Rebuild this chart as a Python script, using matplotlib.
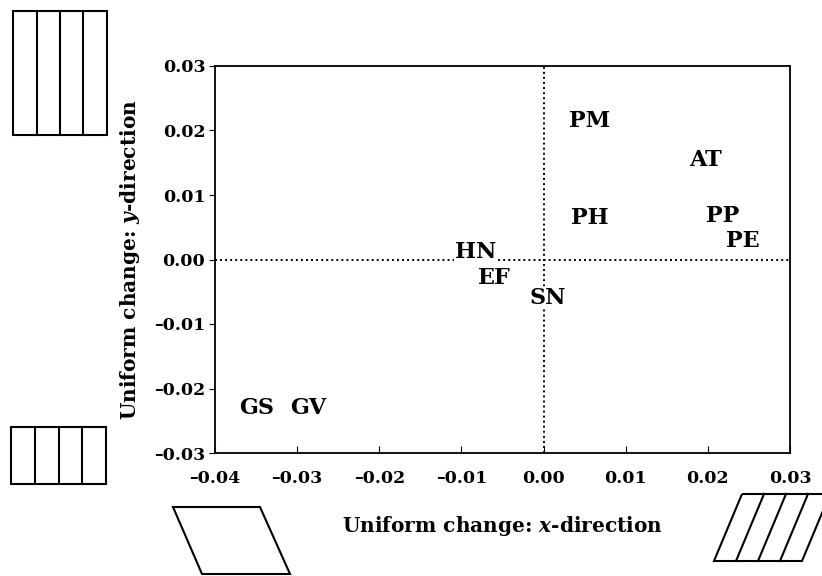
import matplotlib
matplotlib.use("Agg")
import matplotlib.pyplot as plt
from matplotlib.patches import Polygon
from matplotlib.ticker import FuncFormatter

plt.rcParams["font.family"] = ["DejaVu Serif"]
plt.rcParams["font.weight"] = "bold"
plt.rcParams["mathtext.fontset"] = "dejavuserif"

# species / group labels and their uniform change estimates
labels = ["PM", "AT", "PH", "PP", "PE", "HN", "EF", "SN", "GS", "GV"]
x_change = [0.0056, 0.0197, 0.0056, 0.0218, 0.0243, -0.0083, -0.0060, 0.0005, -0.0349, -0.0286]
y_change = [0.0215, 0.0155, 0.0065, 0.0068, 0.0029, 0.0012, -0.0028, -0.0059, -0.0230, -0.0230]

x_ticks = [-0.04, -0.03, -0.02, -0.01, 0.00, 0.01, 0.02, 0.03]
y_ticks = [-0.03, -0.02, -0.01, 0.00, 0.01, 0.02, 0.03]

W, H = 822, 576
fig = plt.figure(figsize=(W / 100, H / 100), dpi=100)
ax = fig.add_axes([215 / W, 1 - 453 / H, (790 - 215) / W, (453 - 66) / H])

ax.axhline(0, color="black", linestyle=(0, (1, 1.6)), lw=1.4, zorder=1)
ax.axvline(0, color="black", linestyle=(0, (1, 1.6)), lw=1.4, zorder=1)

for lab, xv, yv in zip(labels, x_change, y_change):
    ax.text(xv, yv, lab, ha="center", va="center", fontsize=16, fontweight="bold",
            bbox=dict(facecolor="white", edgecolor="none", pad=0.5), zorder=3)

ax.set_xlim(-0.04, 0.03)
ax.set_ylim(-0.03, 0.03)
ax.set_xticks(x_ticks)
ax.set_yticks(y_ticks)
fmt = FuncFormatter(lambda v, p: ("\u2013" if v < -1e-9 else "") + f"{abs(v):.2f}")
ax.xaxis.set_major_formatter(fmt)
ax.yaxis.set_major_formatter(fmt)
ax.tick_params(axis="x", direction="in", length=5, labelsize=12.5, pad=12)
ax.tick_params(axis="y", direction="out", length=4, labelsize=12.5, pad=3)
for s in ax.spines.values():
    s.set_linewidth(1.3)

ax.set_xlabel("Uniform change: $x$-direction", fontsize=14.5, fontweight="bold", labelpad=20)
ax.set_ylabel("Uniform change: $y$-direction", fontsize=14.5, fontweight="bold", labelpad=9)


def px_poly(pts, **kw):
    verts = [(x / W, 1 - y / H) for x, y in pts]
    fig.add_artist(Polygon(verts, closed=True, transform=fig.transFigure,
                           fill=False, edgecolor="black", lw=1.5, **kw))


def px_line(x0, y0, x1, y1):
    fig.add_artist(plt.Line2D([x0 / W, x1 / W], [1 - y0 / H, 1 - y1 / H],
                              transform=fig.transFigure, color="black", lw=1.5))


# undeformed grid, top left
px_poly([(13, 11), (107, 11), (107, 135), (13, 135)])
for xx in (37, 60, 83):
    px_line(xx, 11, xx, 135)

# compressed grid, bottom left
px_poly([(11, 427), (106, 427), (106, 484), (11, 484)])
for xx in (35, 59, 82):
    px_line(xx, 427, xx, 484)

# sheared shape, bottom middle
px_poly([(173, 507), (260, 507), (290, 574), (202, 574)])

# sheared grid, bottom right
px_poly([(742, 494), (830, 494), (802, 561), (714, 561)])
for xt, xb in ((764, 736), (786, 758), (808, 780)):
    px_line(xt, 494, xb, 561)

fig.savefig("out.png", dpi=100)
